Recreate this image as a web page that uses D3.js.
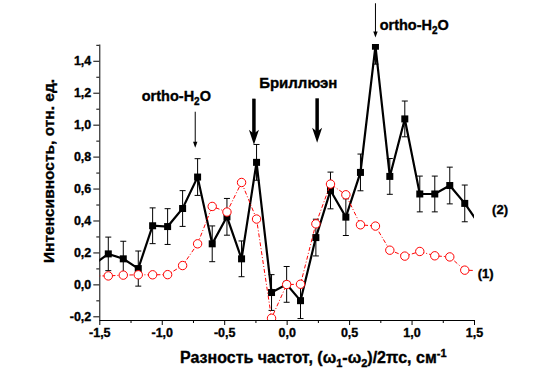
<!DOCTYPE html>
<html>
<head>
<meta charset="utf-8">
<script src="https://cdn.jsdelivr.net/npm/d3@7"></script>
<style>
  body { margin: 0; background: #fff; }
  text { font-family: "Liberation Sans", Arial, sans-serif; font-weight: bold; stroke: #000; stroke-width: 0.35px; }
</style>
</head>
<body>
<div id="chart"></div>
<script>
// frequency difference, cm-1 (first and last points lie just outside the axis and get clipped)
const freq = [-1.547, -1.428, -1.308, -1.188, -1.073, -0.953, -0.833, -0.713, -0.596, -0.478,
              -0.361, -0.241, -0.121, 0.0, 0.111, 0.234, 0.351, 0.474, 0.591, 0.711,
              0.826, 0.946, 1.066, 1.186, 1.306, 1.426, 1.545];

// curve (1), red open circles
const curve1 = [0.053, 0.053, 0.058, 0.060, 0.060, 0.061, 0.118, 0.254, 0.488, 0.453,
                0.638, 0.409, -0.212, -0.001, 0.001, 0.379, 0.628, 0.561, 0.373, 0.365,
                0.214, 0.177, 0.206, 0.179, 0.172, 0.089, 0.086];

// curve (2), black squares with error bars
const curve2 = [0.124, 0.191, 0.160, 0.099, 0.367, 0.362, 0.475, 0.672, 0.254, 0.423,
                0.160, 0.764, -0.051, 0.0, -0.102, 0.293, 0.588, 0.421, 0.701, 1.491,
                0.676, 1.036, 0.566, 0.566, 0.619, 0.507, 0.373];
const curve2Err = [0.11, 0.105, 0.11, 0.11, 0.112, 0.112, 0.112, 0.115, 0.112, 0.115,
                   0.112, 0.112, 0.112, 0.112, 0.112, 0.115, 0.115, 0.115, 0.115, 0.112,
                   0.112, 0.112, 0.112, 0.112, 0.115, 0.115, 0.11];

const xTicks = [-1.5, -1.0, -0.5, 0.0, 0.5, 1.0, 1.5];
const xMinor = [-1.25, -0.75, -0.25, 0.25, 0.75, 1.25];
const yTicks = [-0.2, 0.0, 0.2, 0.4, 0.6, 0.8, 1.0, 1.2, 1.4];
const yMinor = [-0.1, 0.1, 0.3, 0.5, 0.7, 0.9, 1.1, 1.3, 1.5];

// annotations: thin arrows (ortho-H2O) and thick arrows (Brillouin), in data units
const thinArrows = [{x: -0.732, y0: 1.081, y1: 0.856}, {x: 0.711, y0: 1.76, y1: 1.545}];
const thickArrows = [{x: -0.262, y0: 1.163, y1: 0.875}, {x: 0.244, y0: 1.165, y1: 0.887}];
const orthoLabels = [{x: -1.16, y: 1.15}, {x: 0.745, y: 1.595}];
const brillLabel = {x: -0.22, y: 1.232, text: 'Бриллюэн'};
const curveLabels = [{x: 1.645, y: 0.44, text: '(2)'}, {x: 1.53, y: 0.04, text: '(1)'}];

let width = 551,
    height = 384;

let x = d3.scaleLinear().domain([-1.5, 1.5]).range([99.3, 474]);
let y = d3.scaleLinear().domain([-0.223, 1.505]).range([320, 44]);

let fmt = d => d3.format('.1f')(d).replace('.', ',').replace('−', '-');

let svg = d3.select('#chart').append('svg')
  .attr('width', width)
  .attr('height', height);

svg.append('defs').append('clipPath').attr('id', 'plot-clip')
  .append('rect')
    .attr('x', x.range()[0])
    .attr('y', y.range()[1])
    .attr('width', x.range()[1] - x.range()[0])
    .attr('height', y.range()[0] - y.range()[1]);

// axes
svg.append('g').attr('transform', `translate(0,${y.range()[0]})`)
  .call(d3.axisBottom(x).tickValues(xTicks).tickSize(5).tickSizeOuter(0).tickPadding(3).tickFormat(fmt));
svg.append('g').attr('transform', `translate(0,${y.range()[0]})`)
  .call(d3.axisBottom(x).tickValues(xMinor).tickSize(3).tickSizeOuter(0).tickFormat(''))
  .select('.domain').remove();

svg.append('g').attr('transform', `translate(${x.range()[0]},0)`)
  .call(d3.axisLeft(y).tickValues(yTicks).tickSize(6).tickSizeOuter(0).tickPadding(2).tickFormat(fmt));
svg.append('g').attr('transform', `translate(${x.range()[0]},0)`)
  .call(d3.axisLeft(y).tickValues(yMinor).tickSize(3).tickSizeOuter(0).tickFormat(''))
  .select('.domain').remove();

svg.selectAll('.tick text')
  .style('font-size', '12.5px')
  .style('font-family', '"Liberation Sans", Arial, sans-serif')
  .style('font-weight', 'bold')
  .attr('fill', '#000');
svg.selectAll('.domain, .tick line').attr('stroke', '#000').attr('stroke-width', 1);

// plot area
let plot = svg.append('g').attr('clip-path', 'url(#plot-clip)');

let pts2 = freq.map((f, i) => ({x: f, y: curve2[i], e: curve2Err[i]}));
let pts1 = freq.map((f, i) => ({x: f, y: curve1[i]}));

let line = d3.line().x(d => x(d.x)).y(d => y(d.y));

// error bars of curve (2)
let eb = plot.append('g').attr('stroke', '#000').attr('stroke-width', 1);
eb.selectAll('.bar').data(pts2).enter().append('line')
  .attr('x1', d => x(d.x)).attr('x2', d => x(d.x))
  .attr('y1', d => y(d.y + d.e)).attr('y2', d => y(d.y - d.e));
eb.selectAll('.cap-top').data(pts2).enter().append('line')
  .attr('x1', d => x(d.x) - 3).attr('x2', d => x(d.x) + 3)
  .attr('y1', d => y(d.y + d.e)).attr('y2', d => y(d.y + d.e));
eb.selectAll('.cap-bot').data(pts2).enter().append('line')
  .attr('x1', d => x(d.x) - 3).attr('x2', d => x(d.x) + 3)
  .attr('y1', d => y(d.y - d.e)).attr('y2', d => y(d.y - d.e));

plot.append('path')
  .datum(pts2)
  .attr('d', line)
  .attr('fill', 'none')
  .attr('stroke', '#000')
  .attr('stroke-width', 2.2)
  .attr('stroke-linejoin', 'miter');

plot.selectAll('rect.sq').data(pts2).enter().append('rect')
  .attr('class', 'sq')
  .attr('x', d => x(d.x) - 3.5)
  .attr('y', d => y(d.y) - 3.5)
  .attr('width', 7)
  .attr('height', 7)
  .attr('fill', '#000');

plot.append('path')
  .datum(pts1)
  .attr('d', line)
  .attr('fill', 'none')
  .attr('stroke', '#f00')
  .attr('stroke-width', 1)
  .attr('stroke-dasharray', '4,2,1,2');

plot.selectAll('circle').data(pts1).enter().append('circle')
  .attr('cx', d => x(d.x))
  .attr('cy', d => y(d.y))
  .attr('r', 4.2)
  .attr('fill', '#fff')
  .attr('stroke', '#f00')
  .attr('stroke-width', 1);

// annotations
let ann = svg.append('g');

thinArrows.forEach(a => {
  let px = x(a.x), ya = y(a.y0), yb = y(a.y1);
  ann.append('line')
    .attr('x1', px).attr('x2', px).attr('y1', ya).attr('y2', yb - 4)
    .attr('stroke', '#000').attr('stroke-width', 1);
  ann.append('path')
    .attr('d', `M${px - 2.2},${yb - 6} L${px + 2.2},${yb - 6} L${px},${yb} Z`)
    .attr('fill', '#000');
});

thickArrows.forEach(a => {
  let px = x(a.x), ya = y(a.y0), yb = y(a.y1);
  ann.append('line')
    .attr('x1', px).attr('x2', px).attr('y1', ya).attr('y2', yb - 10)
    .attr('stroke', '#000').attr('stroke-width', 3.5);
  ann.append('path')
    .attr('d', `M${px - 5},${yb - 15} L${px},${yb - 11} L${px + 5},${yb - 15} L${px},${yb} Z`)
    .attr('fill', '#000');
});

orthoLabels.forEach(l => {
  let t = ann.append('text')
    .attr('x', x(l.x)).attr('y', y(l.y))
    .style('font-size', '14.5px');
  t.append('tspan').text('ortho-H');
  t.append('tspan').attr('dy', 4).style('font-size', '10px').text('2');
  t.append('tspan').attr('dy', -4).text('O');
});

ann.append('text')
  .attr('x', x(brillLabel.x)).attr('y', y(brillLabel.y))
  .style('font-size', '15px')
  .text(brillLabel.text);

curveLabels.forEach(l => {
  ann.append('text')
    .attr('x', x(l.x)).attr('y', y(l.y))
    .style('font-size', '13px')
    .text(l.text);
});

// axis titles
let xt = svg.append('text')
  .attr('x', 180).attr('y', 363)
  .style('font-size', '16px');
xt.append('tspan').text('Разность частот, (ω');
xt.append('tspan').attr('dy', 4).style('font-size', '11px').text('1');
xt.append('tspan').attr('dy', -4).text('-ω');
xt.append('tspan').attr('dy', 4).style('font-size', '11px').text('2');
xt.append('tspan').attr('dy', -4).text(')/2πc, см');
xt.append('tspan').attr('dy', -6).style('font-size', '11px').text('-1');

svg.append('text')
  .attr('transform', 'translate(54,171) rotate(-90)')
  .attr('text-anchor', 'middle')
  .style('font-size', '15.5px')
  .text('Интенсивность, отн. ед.');
</script>
</body>
</html>
